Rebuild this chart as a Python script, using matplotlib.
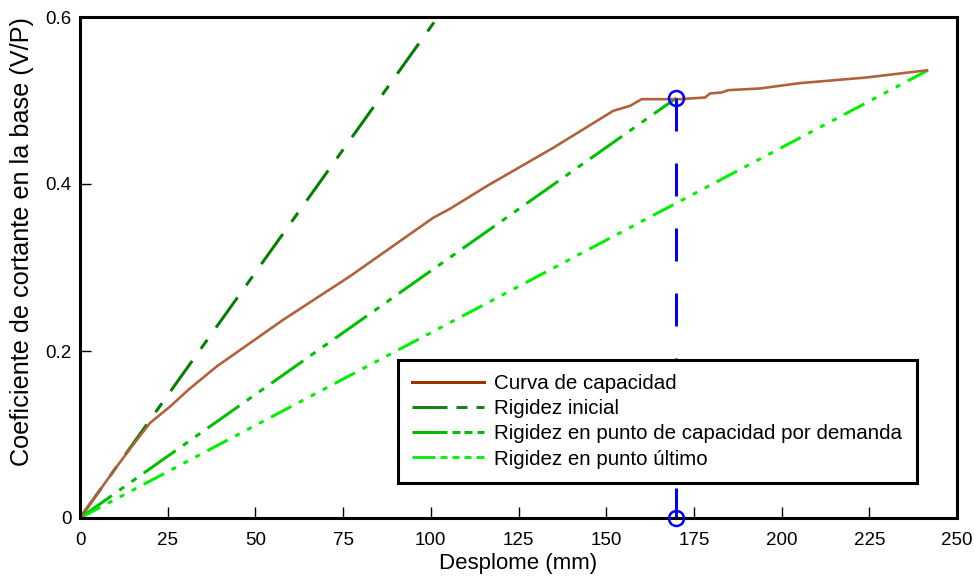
import matplotlib
matplotlib.use("Agg")
import matplotlib.pyplot as plt
from matplotlib.lines import Line2D

plt.rcParams['font.family'] = ['Liberation Sans', 'DejaVu Sans']
plt.rcParams['lines.scale_dashes'] = False

# Capacity curve data
disp = [0, 5, 10, 15, 20, 25.7, 30.9, 39, 50, 58, 77, 100.7, 105.5, 116, 135,
        152, 156.8, 160.1, 171, 178.2, 179.6, 182.9, 184.8, 193.8, 205.2, 224.3, 241.8]
coef = [0, 0.0294, 0.0588, 0.087, 0.114, 0.1336, 0.1536, 0.1816, 0.214, 0.2376, 0.2896,
        0.3596, 0.3704, 0.3976, 0.4436, 0.4876, 0.4936, 0.5016, 0.5016, 0.5036, 0.5084,
        0.5096, 0.5124, 0.5144, 0.5208, 0.5276, 0.5364]

init_x = [0, 102]
init_y = [0, 0.6]
demand_x = [0, 170]
demand_y = [0, 0.503]
ult_x = [0, 241.8]
ult_y = [0, 0.5364]
pd_x = [170, 170]
pd_y = [0.503, 0]

labels = ['Curva de capacidad', 'Rigidez inicial',
          'Rigidez en punto de capacidad por demanda', 'Rigidez en punto último']

px = 0.72  # points per pixel at dpi 100

fig = plt.figure(figsize=(9.74, 5.79), dpi=100)
ax = fig.add_axes([80/974, 61/579, 877/974, 501/579])

c_curve = '#b0603a'
c_init = '#008000'
c_dem = '#00bf00'
c_ult = '#00f000'
lw = 3 * px

ax.plot(init_x, init_y, color=c_init, lw=lw, dashes=[37*px, 15*px, 11*px, 15*px])
ax.plot(demand_x, demand_y, color=c_dem, lw=lw,
        dashes=[39*px, 9*px, 6*px, 9*px, 6*px, 9*px])
ax.plot(ult_x, ult_y, color=c_ult, lw=lw,
        dashes=[23*px, 8.5*px, 5*px, 8.5*px, 5*px, 8.5*px, 5*px, 8.5*px])
ax.plot(disp, coef, color=c_curve, lw=2.6*px, solid_capstyle='butt')
ax.plot(pd_x, pd_y, color='blue', lw=lw, dashes=[33*px, 32*px], clip_on=False)
ax.plot(pd_x, pd_y, 'o', mfc='none', mec='blue', mew=2.5*px, ms=15*px, clip_on=False, zorder=6)

ax.set_xlim(0, 250)
ax.set_ylim(0, 0.6)
ax.set_xticks([0, 25, 50, 75, 100, 125, 150, 175, 200, 225, 250])
ax.set_yticks([0, 0.2, 0.4, 0.6])
ax.set_yticklabels(['0', '0.2', '0.4', '0.6'])
ax.tick_params(direction='in', length=8, width=1, labelsize=13.5)
ax.tick_params(axis='x', pad=10)
ax.tick_params(axis='y', pad=6)
for s in ax.spines.values():
    s.set_linewidth(2.2)
ax.set_xlabel('Desplome (mm)', fontsize=16, labelpad=3)
ax.set_ylabel('Coeficiente de cortante en la base (V/P)', fontsize=18.2)
ax.yaxis.set_label_coords(-0.053, 0.551)

handles = [
    Line2D([], [], color='#993300', lw=lw),
    Line2D([], [], color='#1a801a', lw=lw, dashes=[35*px, 9*px, 11*px, 9*px]),
    Line2D([], [], color='#00bb00', lw=lw, dashes=[35*px, 5*px, 8*px, 4*px, 8*px, 5*px]),
    Line2D([], [], color='#11ee11', lw=lw, dashes=[23*px, 5*px, 7*px, 5*px, 7*px, 5*px, 7*px, 5*px]),
]
leg = ax.legend(handles, labels, loc='lower right', bbox_to_anchor=(0.954, 0.07),
                borderaxespad=0, fontsize=14.8, handlelength=3.5, handletextpad=0.5,
                labelspacing=0.3, fancybox=False, framealpha=1, edgecolor='black',
                borderpad=0.7)
leg.get_frame().set_linewidth(2.2)

fig.savefig('out.png', dpi=100)
